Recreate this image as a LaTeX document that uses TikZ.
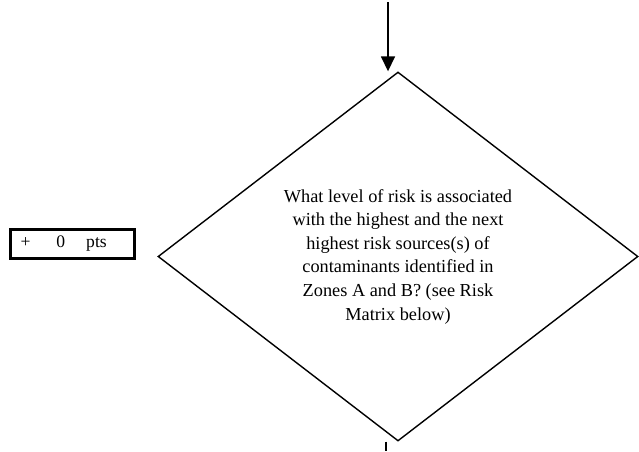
\documentclass[tikz,border=0pt]{standalone}
\usepackage{fontspec}
\setmainfont{Liberation Serif}
\usetikzlibrary{arrows.meta,positioning,shapes.geometric}
\tikzset{
  decision/.style={diamond,draw=black,line width=1.4pt,inner sep=0pt,minimum width=480pt,minimum height=369pt},
  qtext/.style={align=center,inner sep=0pt,font=\fontsize{18.3}{23.6}\selectfont},
  ptsbox/.style={draw=black,line width=2.4pt,text width=104pt,inner xsep=10pt,inner ysep=0pt,minimum height=29pt,align=left,font=\fontsize{17.6}{20}\selectfont},
  ar/.style={-{Triangle[length=15pt,width=14pt]},draw=black,line width=1.6pt},
  ln/.style={draw=black,line width=1.6pt},
}
\begin{document}
\begin{tikzpicture}[x=1pt,y=-1pt]
  \useasboundingbox (0,0) rectangle (639,451);
  \node[decision] (q) at (398,256.5) {};
  \node[qtext] (qtext) at (q.center) {What level of risk is associated\\with the highest and the next\\highest risk sources(s) of\\contaminants identified in\\Zones A and B? (see Risk\\Matrix below)};
  \node[ptsbox] (pts) at (72.5,244) {+\hspace{26pt}0\hspace{21pt}pts};
  \coordinate (in) at (388,2);
  \coordinate (out) at (386,451);
  \draw[ar] (in) -- (in |- q.north);
  \draw[ln] (out |- q.south) -- (out);
\end{tikzpicture}
\end{document}
